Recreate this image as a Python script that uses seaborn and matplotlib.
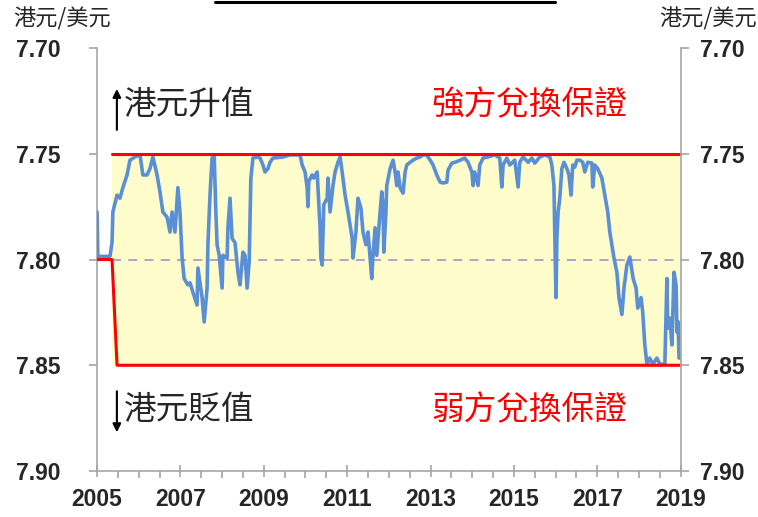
import numpy as np
import pandas as pd
import seaborn as sns
import matplotlib.pyplot as plt
from matplotlib.lines import Line2D
from matplotlib.ticker import MultipleLocator

# 港元兌美元匯率
years = [2005.00, 2005.02, 2005.31, 2005.36, 2005.38, 2005.48, 2005.55, 2005.62, 2005.72, 2005.79,
         2005.91, 2006.03, 2006.10, 2006.20, 2006.27, 2006.34, 2006.44, 2006.51, 2006.58, 2006.68,
         2006.75, 2006.80, 2006.87, 2006.94, 2006.99, 2007.04, 2007.09, 2007.18, 2007.23, 2007.30,
         2007.40, 2007.42, 2007.52, 2007.57, 2007.64, 2007.66, 2007.71, 2007.76, 2007.81, 2007.85,
         2007.88, 2007.93, 2008.00, 2008.02, 2008.12, 2008.14, 2008.19, 2008.24, 2008.31, 2008.38,
         2008.43, 2008.50, 2008.55, 2008.60, 2008.65, 2008.69, 2008.74, 2008.84, 2008.91, 2008.98,
         2009.03, 2009.10, 2009.15, 2009.22, 2009.46, 2009.63, 2009.87, 2009.92, 2009.99, 2010.04,
         2010.06, 2010.08, 2010.16, 2010.20, 2010.28, 2010.30, 2010.35, 2010.37, 2010.40, 2010.44,
         2010.52, 2010.54, 2010.59, 2010.66, 2010.71, 2010.78, 2010.83, 2010.88, 2010.95, 2011.02,
         2011.12, 2011.14, 2011.21, 2011.26, 2011.33, 2011.38, 2011.45, 2011.50, 2011.55, 2011.59,
         2011.62, 2011.67, 2011.71, 2011.79, 2011.83, 2011.86, 2011.88, 2011.93, 2011.95, 2012.03,
         2012.10, 2012.15, 2012.19, 2012.22, 2012.27, 2012.34, 2012.39, 2012.43, 2012.51, 2012.58,
         2012.67, 2012.75, 2012.82, 2012.91, 2012.99, 2013.06, 2013.15, 2013.23, 2013.30, 2013.39,
         2013.42, 2013.51, 2013.59, 2013.71, 2013.82, 2013.90, 2013.99, 2014.02, 2014.06, 2014.14,
         2014.18, 2014.26, 2014.38, 2014.54, 2014.66, 2014.71, 2014.74, 2014.83, 2014.90, 2015.02,
         2015.10, 2015.14, 2015.22, 2015.34, 2015.43, 2015.50, 2015.62, 2015.74, 2015.86, 2015.91,
         2015.96, 2015.98, 2016.01, 2016.03, 2016.06, 2016.10, 2016.15, 2016.20, 2016.27, 2016.32,
         2016.37, 2016.41, 2016.46, 2016.51, 2016.58, 2016.65, 2016.70, 2016.77, 2016.87, 2016.89,
         2016.94, 2017.01, 2017.11, 2017.18, 2017.25, 2017.30, 2017.35, 2017.40, 2017.47, 2017.52,
         2017.59, 2017.64, 2017.71, 2017.78, 2017.86, 2017.93, 2017.97, 2018.05, 2018.09, 2018.14,
         2018.19, 2018.26, 2018.33, 2018.43, 2018.50, 2018.62, 2018.67, 2018.69, 2018.74, 2018.79,
         2018.84, 2018.89, 2018.91, 2018.94, 2018.96]
rates = [7.7775, 7.7985, 7.7985, 7.7920, 7.7775, 7.7695, 7.7710, 7.7660, 7.7600, 7.7530,
         7.7515, 7.7505, 7.7600, 7.7600, 7.7570, 7.7515, 7.7600, 7.7680, 7.7775, 7.7800,
         7.7870, 7.7775, 7.7870, 7.7660, 7.7775, 7.7990, 7.8090, 7.8120, 7.8110, 7.8155,
         7.8215, 7.8040, 7.8180, 7.8295, 7.8135, 7.7930, 7.7695, 7.7520, 7.7505, 7.7775,
         7.7930, 7.7980, 7.8135, 7.7980, 7.7993, 7.7850, 7.7710, 7.7900, 7.7920, 7.8060,
         7.8120, 7.7965, 7.7980, 7.8135, 7.8010, 7.7615, 7.7520, 7.7515, 7.7520, 7.7553,
         7.7586, 7.7570, 7.7540, 7.7520, 7.7515, 7.7505, 7.7505, 7.7553, 7.7586, 7.7660,
         7.7750, 7.7630, 7.7600, 7.7615, 7.7586, 7.7660, 7.7850, 7.7993, 7.8026, 7.7740,
         7.7710, 7.7615, 7.7775, 7.7650, 7.7586, 7.7540, 7.7515, 7.7586, 7.7695, 7.7775,
         7.7900, 7.7993, 7.7870, 7.7710, 7.7757, 7.7870, 7.7930, 7.7870, 7.7993, 7.8090,
         7.7980, 7.7850, 7.7980, 7.7775, 7.7680, 7.7742, 7.7965, 7.7775, 7.7650, 7.7570,
         7.7530, 7.7586, 7.7650, 7.7586, 7.7660, 7.7686, 7.7586, 7.7553, 7.7540, 7.7530,
         7.7520, 7.7515, 7.7505, 7.7505, 7.7530, 7.7553, 7.7600, 7.7634, 7.7638, 7.7634,
         7.7577, 7.7544, 7.7540, 7.7530, 7.7520, 7.7540, 7.7586, 7.7650, 7.7586, 7.7650,
         7.7553, 7.7520, 7.7515, 7.7505, 7.7520, 7.7657, 7.7553, 7.7520, 7.7553, 7.7530,
         7.7657, 7.7540, 7.7515, 7.7540, 7.7520, 7.7544, 7.7515, 7.7505, 7.7515, 7.7553,
         7.7650, 7.7880, 7.8180, 7.7900, 7.7775, 7.7710, 7.7570, 7.7540, 7.7570, 7.7600,
         7.7695, 7.7553, 7.7563, 7.7530, 7.7530, 7.7540, 7.7586, 7.7540, 7.7544, 7.7657,
         7.7553, 7.7570, 7.7615, 7.7695, 7.7775, 7.7870, 7.7930, 7.7993, 7.8060, 7.8180,
         7.8260, 7.8135, 7.8026, 7.7988, 7.8090, 7.8135, 7.8230, 7.8180, 7.8250, 7.8404,
         7.8495, 7.8466, 7.8495, 7.8466, 7.8495, 7.8495, 7.8090, 7.8324, 7.8277, 7.8404,
         7.8060, 7.8120, 7.8343, 7.8295, 7.8466]

band_start = 2005.36
strong_side = 7.75
weak_side = 7.85
mid_rate = 7.80
weak_x = [2005.0, 2005.36, 2005.48, 2019.0]
weak_y = [7.80, 7.80, 7.85, 7.85]
year_ticks = list(range(2005, 2020, 2))
rate_ticks = [7.70, 7.75, 7.80, 7.85, 7.90]

sns.set_style("white")
plt.rcParams['font.family'] = ['Noto Sans CJK TC', 'DejaVu Sans']

fig = plt.figure(figsize=(7.58, 5.17), dpi=100)
ax = fig.add_axes([0.128, 0.089, 0.770, 0.818])

# 兌換範圍 (黃色)
band_x = np.array([band_start, 2019.0])
ax.fill_between(band_x, strong_side, weak_side, color="#fdfcca", lw=0, zorder=1)
ax.plot(band_x, [mid_rate, mid_rate], color="#a99cc9", lw=1.3, ls=(0, (5, 4)), zorder=2)
ax.plot(band_x, [strong_side, strong_side], color="red", lw=2.2, zorder=5)
ax.plot(weak_x, weak_y, color="red", lw=2.2, zorder=5)

df = pd.DataFrame({"year": years, "rate": rates})
sns.lineplot(data=df, x="year", y="rate", ax=ax, color="#5b8fd5", lw=2.6,
             estimator=None, zorder=4)

ax.set_xlim(2005, 2019)
ax.set_ylim(7.90, 7.70)
ax.set_xlabel("")
ax.set_ylabel("")

gray = "#a6a6a6"
for s in ["top", "right"]:
    ax.spines[s].set_visible(False)
for s in ["left", "bottom"]:
    ax.spines[s].set_color(gray)
    ax.spines[s].set_linewidth(1.2)

tick_font = dict(fontfamily="Liberation Sans", fontweight="bold", fontsize=16.5)
ax.set_yticks(rate_ticks, labels=[f"{v:.2f}" for v in rate_ticks], **tick_font)
ax.set_xticks(year_ticks, labels=[str(y) for y in year_ticks], **tick_font)
ax.xaxis.set_minor_locator(MultipleLocator(0.5))
ax.tick_params(axis="y", left=True, length=6, width=1.2, color=gray, pad=20)
ax.tick_params(axis="x", which="major", bottom=True, direction="inout", length=9,
               width=1.2, color=gray, pad=8)
ax.tick_params(axis="x", which="minor", bottom=True, direction="out", length=5,
               width=1.2, color=gray)

ax2 = ax.twinx()
ax2.set_ylim(7.90, 7.70)
ax2.set_yticks(rate_ticks, labels=[f"{v:.2f}" for v in rate_ticks], **tick_font)
for s in ["top", "left", "bottom"]:
    ax2.spines[s].set_visible(False)
ax2.spines["right"].set_color(gray)
ax2.spines["right"].set_linewidth(1.2)
ax2.tick_params(axis="y", right=True, length=6, width=1.2, color=gray, pad=8)

# 文字說明
ax.annotate("", xy=(0.034, 0.910), xytext=(0.034, 0.800), xycoords="axes fraction",
            arrowprops=dict(arrowstyle="-|>", color="black", lw=1.5, mutation_scale=12))
ax.text(0.046, 0.865, "港元升值", transform=ax.transAxes, fontsize=23.5,
        va="center", ha="left")
ax.text(0.741, 0.865, "強方兌換保證", transform=ax.transAxes, fontsize=23.5,
        va="center", ha="center", color="red")
ax.annotate("", xy=(0.034, 0.085), xytext=(0.034, 0.195), xycoords="axes fraction",
            arrowprops=dict(arrowstyle="-|>", color="black", lw=1.5, mutation_scale=12))
ax.text(0.046, 0.144, "港元貶值", transform=ax.transAxes, fontsize=23.5,
        va="center", ha="left")
ax.text(0.741, 0.144, "弱方兌換保證", transform=ax.transAxes, fontsize=23.5,
        va="center", ha="center", color="red")

fig.text(0.018, 0.963, "港元/美元", fontsize=16, va="center", ha="left")
fig.text(0.999, 0.963, "港元/美元", fontsize=16, va="center", ha="right")
fig.add_artist(Line2D([0.284, 0.732], [0.996, 0.996], color="black", lw=2.2,
                      transform=fig.transFigure))

fig.savefig("out.png", dpi=100)
